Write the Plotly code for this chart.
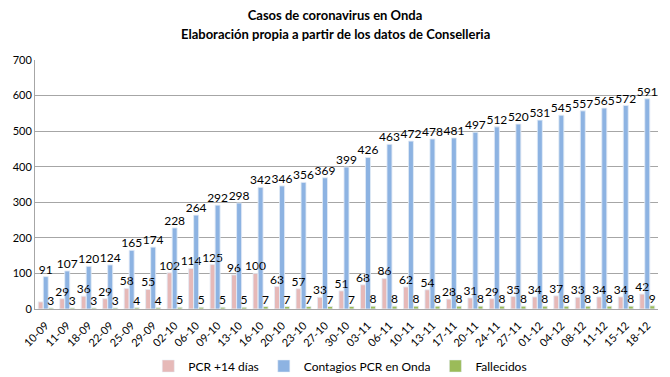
import plotly.graph_objects as go

fechas = ["10-09","11-09","18-09","22-09","25-09","29-09","02-10","06-10","09-10","13-10",
          "16-10","20-10","23-10","27-10","30-10","03-11","06-11","10-11","13-11","17-11",
          "20-11","24-11","27-11","01-12","04-12","08-12","11-12","15-12","18-12"]
pcr14 = [20,29,36,29,58,55,102,114,125,96,100,63,57,33,51,68,86,62,54,28,31,29,35,34,37,33,34,34,42]
contagios = [91,107,120,124,165,174,228,264,292,298,342,346,356,369,399,426,463,472,478,481,
             497,512,520,531,545,557,565,572,591]
fallecidos = [3,3,3,3,4,4,5,5,5,5,7,7,7,7,7,8,8,8,8,8,8,8,8,8,8,8,8,8,9]

pcr_text = [""] + [str(v) for v in pcr14[1:]]

font = "Lato"
tf = dict(family=font, size=12, color="black")

series = [
    ("PCR +14 días", pcr14, pcr_text, "#e6b9b8", "a"),
    ("Contagios PCR en Onda", contagios, [str(v) for v in contagios], "#8db3e2", "b"),
    ("Fallecidos", fallecidos, [str(v) for v in fallecidos], "#9bbb59", "c"),
]

fig = go.Figure()
for name, vals, txt, col, grp in series:
    fig.add_trace(go.Bar(x=fechas, y=vals, name=name, marker_color=col, offsetgroup=grp,
                         hoverinfo="skip"))
for name, vals, txt, col, grp in series:
    fig.add_trace(go.Bar(x=fechas, y=vals, name=name, marker_color="rgba(0,0,0,0)",
                         offsetgroup=grp, text=txt, textposition="outside", textfont=tf,
                         cliponaxis=False, constraintext="none", showlegend=False))

W, H = 662, 369  # page body has an 8px margin
fig.update_layout(
    width=W, height=H,
    margin=dict(l=27, r=12, t=52, b=68, autoexpand=False),
    paper_bgcolor="white", plot_bgcolor="white",
    barmode="group", bargap=0.3, bargroupgap=0,
    title=dict(text="Casos de coronavirus en Onda",
               x=327 / W, xanchor="center", yref="container", y=1 - 7 / H, yanchor="middle",
               font=dict(family=font, size=13, color="black", weight="bold")),
    annotations=[dict(text="<b>Elaboración propia a partir de los datos de Conselleria</b>",
                      xref="paper", yref="paper", x=(327 - 27) / 623, y=(301 - 26) / 249,
                      xanchor="center", yanchor="middle", showarrow=False,
                      font=dict(family=font, size=13, color="black"))],
    font=dict(family=font, size=11, color="black"),
    showlegend=True,
    legend=dict(orientation="h", x=0.49, xanchor="center", y=-0.229, yanchor="middle",
                font=dict(family=font, size=12), traceorder="normal", itemwidth=30),
    xaxis=dict(type="category", tickangle=-45, showline=True, linecolor="#a6a6a6", linewidth=1,
               tickfont=dict(family=font, size=11), ticks="", automargin=False,
               ticklabelstandoff=5),
    yaxis=dict(range=[0, 700], dtick=100, showgrid=True, gridcolor="#a6a6a6", gridwidth=1,
               showline=True, linecolor="#a6a6a6", zeroline=False, automargin=False,
               tickfont=dict(family=font, size=11)),
)
fig.write_html("out.html")
